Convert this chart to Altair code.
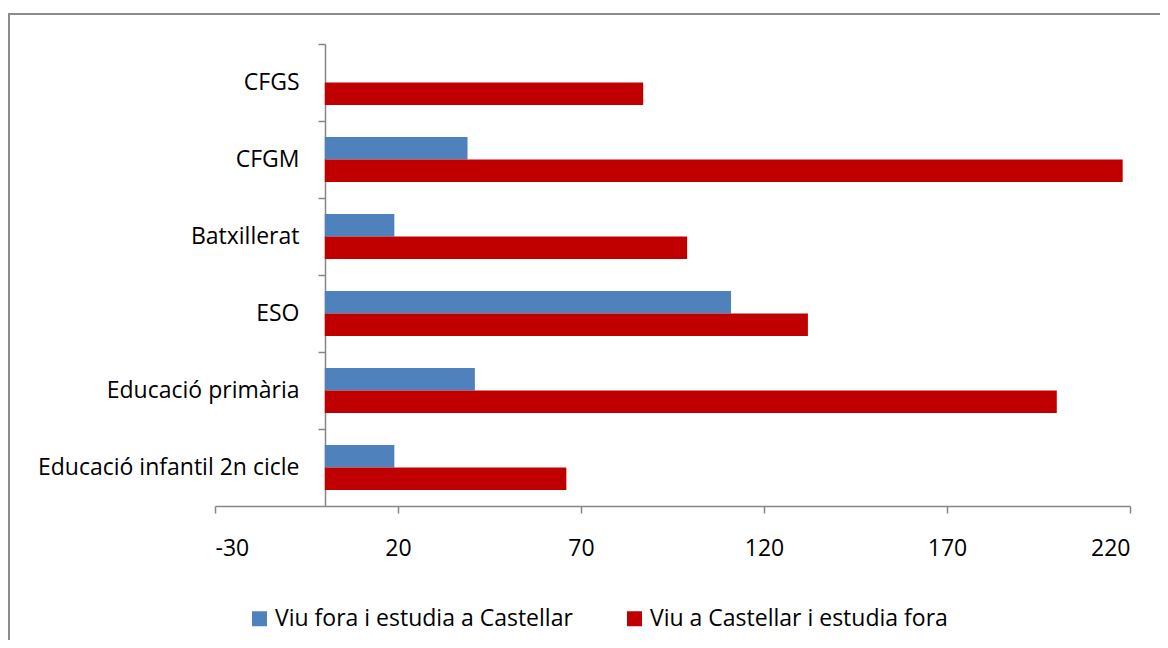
import altair as alt
import pandas as pd

categories = ["CFGS", "CFGM", "Batxillerat", "ESO", "Educació primària", "Educació infantil 2n cicle"]
series = ["Viu fora i estudia a Castellar", "Viu a Castellar i estudia fora"]
viu_fora = [0, 39, 19, 111, 41, 19]
viu_castellar = [87, 218, 99, 132, 200, 66]
x_ticks = [-30, 20, 70, 120, 170, 220]
colors = ["#4F81BD", "#C00000"]

rows = []
for c, a, b in zip(categories, viu_fora, viu_castellar):
    rows.append({"cat": c, "serie": series[0], "val": a})
    rows.append({"cat": c, "serie": series[1], "val": b})
df = pd.DataFrame(rows)

W, H = 915, 462
FONT = "Open Sans"
FS = 23
AXC = "#868686"

bars = alt.Chart(df).mark_bar().encode(
    x=alt.X("val:Q", scale=alt.Scale(domain=[-30, 220], nice=False, zero=False),
            axis=alt.Axis(values=x_ticks, title=None, grid=False, domainColor=AXC,
                          domainWidth=1.5, tickColor=AXC, tickWidth=1.5, tickSize=7,
                          labelPadding=24, labelFontSize=FS, labelFont=FONT,
                          labelExpr="'' + datum.value",
                          labelColor="#000000")),
    x2=alt.datum(0),
    y=alt.Y("cat:N", sort=categories,
            scale=alt.Scale(paddingInner=0, paddingOuter=0),
            axis=alt.Axis(title=None, offset=-110, bandPosition=0, domainColor=AXC,
                          domainWidth=1.5, tickColor=AXC, tickWidth=1.5, tickSize=7,
                          labelPadding=19, labelFontSize=FS, labelFont=FONT,
                          labelLimit=400, labelColor="#000000")),
    yOffset=alt.YOffset("serie:N", sort=series,
                        scale=alt.Scale(paddingInner=0, paddingOuter=0.71)),
    color=alt.Color("serie:N", sort=series,
                    scale=alt.Scale(domain=series, range=colors),
                    legend=alt.Legend(title=None, orient="none", direction="horizontal",
                                      legendX=33, legendY=101 + H,
                                      symbolType="square", symbolSize=225,
                                      symbolStrokeWidth=0, labelFontSize=FS,
                                      labelFont=FONT, labelColor="#000000",
                                      columnPadding=50, labelLimit=400)),
)

border = alt.Chart(pd.DataFrame({"a": [0]})).mark_rect(
    fill=None, stroke="#8C8C8C", strokeWidth=2
).encode(x=alt.value(-206), x2=alt.value(990), y=alt.value(-30), y2=alt.value(650))

chart = alt.layer(border, bars).properties(
    width=W, height=H,
    autosize=alt.AutoSizeParams(type="none"),
    padding={"left": 207, "top": 36, "right": 30, "bottom": 134},
).configure_view(stroke=None)

chart.save("out.html", embed_options={"renderer": "svg", "actions": False})
